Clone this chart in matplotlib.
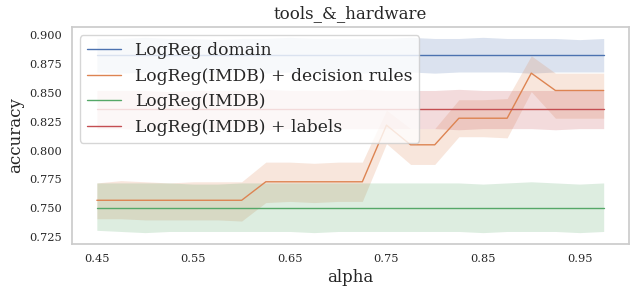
import matplotlib
matplotlib.use("Agg")
import matplotlib.pyplot as plt
import seaborn as sns

# ----------------------------
# Values
# ----------------------------
alphas = [0.45, 0.475, 0.5, 0.525, 0.55, 0.575, 0.6, 0.625, 0.65, 0.675, 0.7,
          0.725, 0.75, 0.775, 0.8, 0.825, 0.85, 0.875, 0.9, 0.925, 0.95, 0.975]

domain_mean = [0.883] * 22
domain_lo = [0.868, 0.867, 0.868, 0.868, 0.867, 0.868, 0.868, 0.867, 0.868, 0.868, 0.868,
             0.867, 0.868, 0.868, 0.867, 0.868, 0.868, 0.868, 0.867, 0.868, 0.868, 0.868]
domain_hi = [0.897, 0.897, 0.898, 0.897, 0.897, 0.896, 0.897, 0.897, 0.898, 0.897, 0.897,
             0.897, 0.897, 0.898, 0.897, 0.897, 0.898, 0.897, 0.897, 0.897, 0.896, 0.897]

rules_mean = [0.757, 0.757, 0.757, 0.757, 0.757, 0.757, 0.757, 0.773, 0.773, 0.773, 0.773,
              0.773, 0.822, 0.805, 0.805, 0.828, 0.828, 0.828, 0.867, 0.852, 0.852, 0.852]
rules_lo = [0.741, 0.741, 0.740, 0.740, 0.740, 0.740, 0.739, 0.755, 0.756, 0.755, 0.756,
            0.756, 0.806, 0.788, 0.788, 0.812, 0.812, 0.811, 0.851, 0.828, 0.828, 0.828]
rules_hi = [0.772, 0.774, 0.773, 0.772, 0.773, 0.773, 0.773, 0.790, 0.790, 0.789, 0.790,
            0.790, 0.835, 0.819, 0.819, 0.844, 0.844, 0.845, 0.882, 0.867, 0.867, 0.867]

imdb_mean = [0.750] * 22
imdb_lo = [0.731, 0.730, 0.729, 0.730, 0.730, 0.730, 0.730, 0.730, 0.730, 0.729, 0.730,
           0.730, 0.730, 0.730, 0.730, 0.730, 0.729, 0.730, 0.730, 0.730, 0.729, 0.730]
imdb_hi = [0.772, 0.772, 0.772, 0.772, 0.771, 0.771, 0.772, 0.772, 0.772, 0.772, 0.772,
           0.772, 0.772, 0.772, 0.772, 0.772, 0.771, 0.772, 0.773, 0.772, 0.771, 0.772]

labels_mean = [0.836] * 22
labels_lo = [0.819, 0.819, 0.818, 0.819, 0.819, 0.819, 0.819, 0.818, 0.819, 0.819, 0.819,
             0.819, 0.819, 0.819, 0.819, 0.818, 0.819, 0.819, 0.819, 0.818, 0.819, 0.819]
labels_hi = [0.852, 0.852, 0.852, 0.851, 0.852, 0.852, 0.852, 0.853, 0.852, 0.852, 0.852,
             0.853, 0.852, 0.852, 0.852, 0.853, 0.852, 0.852, 0.852, 0.852, 0.852, 0.852]

series_names = ["LogReg domain", "LogReg(IMDB) + decision rules",
                "LogReg(IMDB)", "LogReg(IMDB) + labels"]

# --- Plot ---
sns.set_theme(style="whitegrid", font="serif")
plt.rcParams["font.family"] = ["DejaVu Serif"]

fig, ax = plt.subplots(figsize=(6.35, 2.93), dpi=100)
fig.subplots_adjust(left=0.1126, right=0.9906, top=0.9089, bottom=0.1662)

colors = sns.color_palette("deep")
series = [
    (domain_mean, domain_lo, domain_hi),
    (rules_mean, rules_lo, rules_hi),
    (imdb_mean, imdb_lo, imdb_hi),
    (labels_mean, labels_lo, labels_hi),
]
for (mean, lo, hi), name, c in zip(series, series_names, colors):
    ax.plot(alphas, mean, color=c, lw=1.0, label=name)
    ax.fill_between(alphas, lo, hi, color=c, alpha=0.2, lw=0)

ax.grid(False)
ax.set_ylim(0.7189, 0.9072)
ax.set_xticks([0.45, 0.55, 0.65, 0.75, 0.85, 0.95])
ax.set_xticklabels(["0.45", "0.55", "0.65", "0.75", "0.85", "0.95"])
ax.set_yticks([0.725, 0.75, 0.775, 0.8, 0.825, 0.85, 0.875, 0.9])
ax.set_yticklabels(["0.725", "0.750", "0.775", "0.800", "0.825", "0.850", "0.875", "0.900"])
ax.tick_params(labelsize=8.2, length=0, pad=6.8)

ax.set_xlabel("alpha", fontsize=12, labelpad=4)
ax.set_ylabel("accuracy", fontsize=12, labelpad=4)
ax.set_title("tools_&_hardware", fontsize=12)
ax.legend(loc="upper left", fontsize=12.3)

plt.savefig("out.png", dpi=100)
